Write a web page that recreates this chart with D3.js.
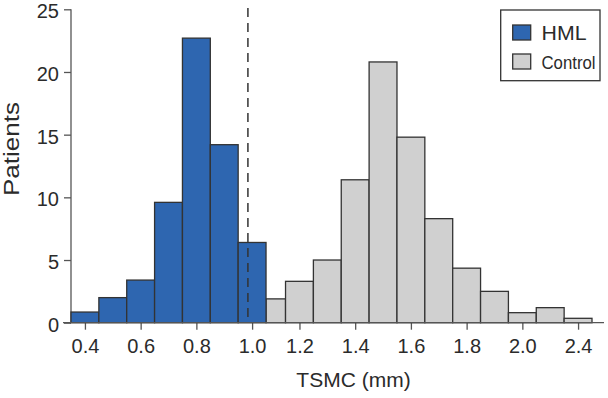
<!DOCTYPE html>
<html>
  <head>
    <title>TSMC histogram</title>
    <style>
      body {margin:0; background:#fff;}
      svg {display:block; font-family:"Liberation Sans", Arial, sans-serif;}
      .axis text {font-family:"Liberation Sans", Arial, sans-serif; font-size:20px; fill:#2b2b2b;}
      .axis line {stroke:#555; stroke-width:1.3px;}
      .axis path {display:none;}
      .lab {font-size:21px; fill:#2b2b2b;}
      .bar {stroke:#333; stroke-width:1.3px;}
    </style>
    <script src="https://cdn.jsdelivr.net/npm/d3@7"></script>
  </head>
  <body>
    <svg id="chart" width="608" height="398"></svg>
    <script>
      // bin centres (mm) and patient counts
      var hmlBins     = [0.4, 0.5, 0.6, 0.7, 0.8, 0.9, 1.0];
      var hmlCounts   = [0.85, 2.0, 3.4, 9.6, 22.7, 14.2, 6.4];
      var ctrlBins    = [1.1, 1.2, 1.3, 1.4, 1.5, 1.6, 1.7, 1.8, 1.9, 2.0, 2.1, 2.2];
      var ctrlCounts  = [1.9, 3.3, 5.0, 11.4, 20.8, 14.8, 8.3, 4.35, 2.5, 0.8, 1.2, 0.35];
      var xTicks      = [0.4, 0.6, 0.8, 1.0, 1.2, 1.4, 1.6, 1.8, 2.0, 2.2];
      var xTickLabels = ["0.4", "0.6", "0.8", "1.0", "1.2", "1.4", "1.6", "1.8", "2.0", "2.4"];
      var yTicks      = [0, 5, 10, 15, 20, 25];
      var cutoff      = 0.985;
      var series      = ["HML", "Control"];
      var colors      = ["#2e66b0", "#d0d0d0"];
      var binW = 0.1;

      var mLeft = 71, mRight = 592, mTop = 9.3, mBottom = 322.7;
      var u = (mRight - mLeft) / 1.87;
      var svg = d3.select("#chart");

      // the 1.05-1.15 bin is squeezed in the original figure
      var x = d3.scaleLinear()
                .domain([0.35, 1.05, 1.15, 2.25])
                .range([mLeft, mLeft + 0.7*u, mLeft + 0.77*u, mRight]);
      var y = d3.scaleLinear().domain([0, 25]).range([mBottom, mTop]);

      // axes
      svg.append("g").attr("class", "axis")
         .attr("transform", "translate(" + mLeft + ",0)")
         .call(d3.axisLeft(y).tickValues(yTicks).tickSize(7).tickPadding(5))
         .call(function(g){ g.selectAll("text").attr("dy", "0.42em"); });
      svg.append("line")
         .attr("x1", mLeft).attr("x2", mLeft).attr("y1", mTop).attr("y2", mBottom)
         .attr("stroke", "#555").attr("stroke-width", 1.3);

      svg.append("g").attr("class", "axis")
         .attr("transform", "translate(0," + mBottom + ")")
         .call(d3.axisBottom(x).tickValues(xTicks).tickSize(7).tickPadding(9)
                 .tickFormat(function(d,i){ return xTickLabels[i]; }));

      // control bars first, HML on top
      var ctrl = ctrlBins.map(function(c,i){ return {c:c, v:ctrlCounts[i]}; });
      var hml  = hmlBins.map(function(c,i){ return {c:c, v:hmlCounts[i]}; });

      svg.append("g").selectAll("rect").data(ctrl).enter()
         .append("rect").attr("class", "bar")
         .attr("x", function(d){ return x(d.c - binW/2); })
         .attr("width", function(d){ return x(d.c + binW/2) - x(d.c - binW/2); })
         .attr("y", function(d){ return y(d.v); })
         .attr("height", function(d){ return y(0) - y(d.v); })
         .style("fill", colors[1]);

      svg.append("g").selectAll("rect").data(hml).enter()
         .append("rect").attr("class", "bar")
         .attr("x", function(d){ return x(d.c - binW/2); })
         .attr("width", function(d){ return x(d.c + binW/2) - x(d.c - binW/2); })
         .attr("y", function(d){ return y(d.v); })
         .attr("height", function(d){ return y(0) - y(d.v); })
         .style("fill", colors[0]);

      // baseline
      svg.append("line")
         .attr("x1", mLeft - 8).attr("x2", 604).attr("y1", mBottom).attr("y2", mBottom)
         .attr("stroke", "#555").attr("stroke-width", 1.3);

      // cutoff
      svg.append("line")
         .attr("x1", x(cutoff)).attr("x2", x(cutoff))
         .attr("y1", 8).attr("y2", mBottom)
         .attr("stroke", "#333").attr("stroke-width", 1.5)
         .attr("stroke-dasharray", "9,6");

      // axis titles
      svg.append("text").attr("class", "lab")
         .attr("transform", "translate(18.5,149) rotate(-90)")
         .attr("text-anchor", "middle").style("font-size", "22px")
         .attr("textLength", 94).attr("lengthAdjust", "spacingAndGlyphs")
         .text("Patients");
      svg.append("text").attr("class", "lab")
         .attr("x", 353.5).attr("y", 387)
         .attr("text-anchor", "middle")
         .text("TSMC (mm)");

      // legend
      var lg = svg.append("g");
      lg.append("rect").attr("x", 500.7).attr("y", 10).attr("width", 99.3).attr("height", 70.7)
        .attr("fill", "#fff").attr("stroke", "#333").attr("stroke-width", 1.3);
      lg.selectAll(".sw").data(series).enter()
        .append("rect").attr("class", "bar")
        .attr("x", 512.7).attr("y", function(d,i){ return 25 + i*29; })
        .attr("width", 18).attr("height", 15)
        .style("fill", function(d,i){ return colors[i]; });
      lg.selectAll(".lt").data(series).enter()
        .append("text").attr("class", "lab")
        .attr("x", 541.5).attr("y", function(d,i){ return 39.5 + i*29; })
        .style("font-size", function(d,i){ return i == 0 ? "21px" : "19px"; })
        .attr("textLength", function(d,i){ return i == 0 ? 45 : 54; })
        .attr("lengthAdjust", "spacingAndGlyphs")
        .text(function(d){ return d; });
    </script>
  </body>
</html>
